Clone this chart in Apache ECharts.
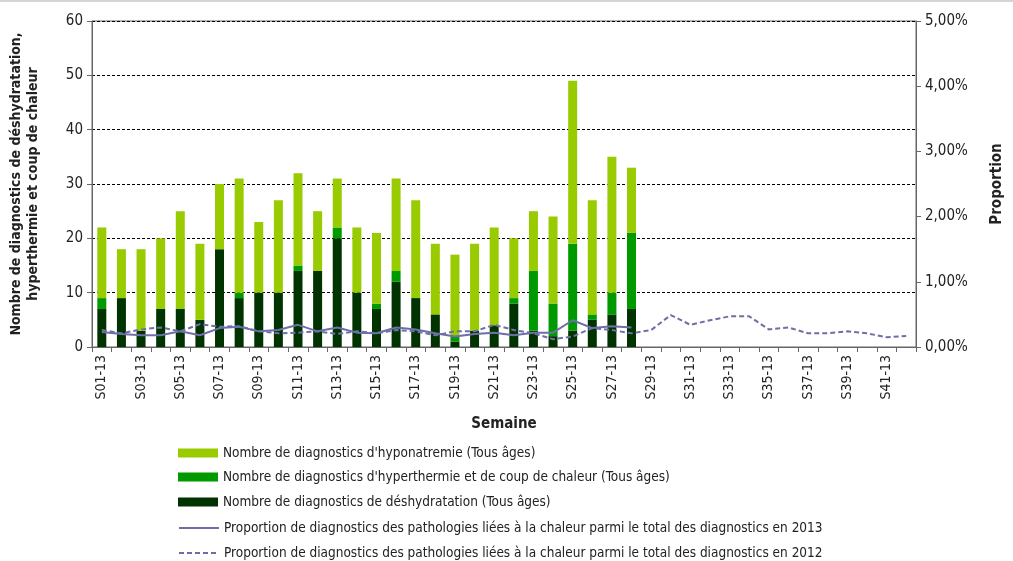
<!DOCTYPE html>
<html>
<head>
<meta charset="utf-8">
<script src="https://cdn.jsdelivr.net/npm/echarts@6/dist/echarts.min.js"></script>
<style>
  html, body { margin: 0; padding: 0; background: #fff; }
  #chart { width: 1013px; height: 561px; border-top: 2px solid #d4d4d4; box-sizing: border-box; }
</style>
</head>
<body>
<div id="chart"></div>
<script>
  // semaines S01-13 .. S42-13
  var semaines = []
  for (var i = 1; i <= 42; i++) {
    semaines.push('S' + (i < 10 ? '0' + i : i) + '-13')
  }

  var deshydratation = [7, 9, 3, 7, 7, 5, 18, 9, 10, 10, 14, 14, 20, 10, 7, 12, 9, 6, 1, 3, 4, 8, 3, 2, 3, 5, 6, 7]
  var hyperthermie = [2, 0, 0, 0, 0, 0, 0, 1, 0, 0, 1, 0, 2, 0, 1, 2, 0, 0, 1, 0, 0, 1, 11, 6, 16, 1, 4, 14]
  var hyponatremie = [13, 9, 15, 13, 18, 14, 12, 21, 13, 17, 17, 11, 9, 12, 13, 17, 18, 13, 15, 16, 18, 11, 11, 16, 30, 21, 25, 12]

  // proportions en %
  var prop2013 = [0.23, 0.2, 0.18, 0.18, 0.24, 0.18, 0.29, 0.31, 0.24, 0.26, 0.34, 0.24, 0.3, 0.22,
    0.21, 0.3, 0.27, 0.21, 0.16, 0.2, 0.22, 0.18, 0.22, 0.22, 0.41, 0.29, 0.32, 0.3]
  var prop2012 = [0.26, 0.21, 0.27, 0.3, 0.24, 0.35, 0.31, 0.32, 0.24, 0.21, 0.22, 0.24, 0.2, 0.24,
    0.21, 0.26, 0.24, 0.18, 0.24, 0.24, 0.34, 0.26, 0.21, 0.12, 0.16, 0.29, 0.26, 0.21,
    0.26, 0.49, 0.34, 0.41, 0.47, 0.47, 0.27, 0.3, 0.21, 0.21, 0.24, 0.21, 0.15, 0.17]

  var nomHypo = "Nombre de diagnostics d'hyponatremie (Tous âges)"
  var nomHyper = "Nombre de diagnostics d'hyperthermie et de coup de chaleur (Tous âges)"
  var nomDesh = 'Nombre de diagnostics de déshydratation (Tous âges)'
  var nom2013 = 'Proportion de diagnostics des pathologies liées à la chaleur parmi le total des diagnostics en 2013'
  var nom2012 = 'Proportion de diagnostics des pathologies liées à la chaleur parmi le total des diagnostics en 2012'

  var font = '"Liberation Sans Narrow", "DejaVu Sans Condensed", "Open Sans", sans-serif'
  var txt = '#222'

  // one legend per entry, stacked below the chart
  function legendItem(name, top, isLine) {
    return {
      orient: 'vertical',
      left: 178,
      top: top,
      padding: 0,
      itemWidth: 40,
      itemHeight: 9,
      textStyle: { fontFamily: font, fontSize: 13.5, color: txt },
      data: [isLine ? { name: name, itemStyle: { opacity: 0 } } : { name: name, icon: 'rect' }]
    }
  }

  var chart = echarts.init(document.getElementById('chart'))
  chart.setOption({
    backgroundColor: '#fff',
    animation: false,
    textStyle: { fontFamily: font, color: txt },
    grid: {
      left: 92,
      right: 88,
      top: 19,
      bottom: 214,
      show: true,
      borderColor: '#666',
      borderWidth: 1
    },
    legend: [
      legendItem(nomHypo, 444, false),
      legendItem(nomHyper, 468, false),
      legendItem(nomDesh, 493, false),
      legendItem(nom2013, 519, true),
      legendItem(nom2012, 544, true)
    ],
    xAxis: {
      type: 'category',
      data: semaines,
      name: 'Semaine',
      nameLocation: 'middle',
      nameGap: 70,
      nameTextStyle: { fontFamily: font, fontSize: 15, fontWeight: 'bold', color: txt },
      axisLine: { lineStyle: { color: '#666' } },
      axisTick: { show: true, interval: 0, length: 5, lineStyle: { color: '#666' } },
      axisLabel: { interval: 1, rotate: 90, fontSize: 14, color: txt, margin: 8 },
      splitLine: { show: false }
    },
    yAxis: [
      {
        type: 'value',
        min: 0,
        max: 60,
        interval: 10,
        name: 'Nombre de diagnostics de déshydratation,\nhyperthermie et coup de chaleur',
        nameLocation: 'middle',
        nameGap: 50,
        nameTextStyle: { fontFamily: font, fontSize: 14, fontWeight: 'bold', color: txt, lineHeight: 17 },
        axisLine: { show: true, lineStyle: { color: '#666' } },
        axisTick: { show: true, length: 5, lineStyle: { color: '#666' } },
        axisLabel: { fontSize: 15, color: txt, margin: 9 },
        splitLine: { show: true, lineStyle: { color: '#000', type: [3, 2], width: 1 } }
      },
      {
        type: 'value',
        min: 0,
        max: 5,
        interval: 1,
        position: 'right',
        name: 'Proportion',
        nameLocation: 'middle',
        nameGap: 74,
        nameRotate: 90,
        nameTextStyle: { fontFamily: font, fontSize: 15, fontWeight: 'bold', color: txt },
        axisLine: { show: true, lineStyle: { color: '#666' } },
        axisTick: { show: true, length: 5, lineStyle: { color: '#666' } },
        axisLabel: {
          fontSize: 15,
          color: txt,
          margin: 9,
          formatter: function (v) { return v.toFixed(2).replace('.', ',') + '%' }
        },
        splitLine: { show: false }
      }
    ],
    series: [
      {
        name: nomDesh,
        type: 'bar',
        stack: 'diag',
        barWidth: 9,
        itemStyle: { color: '#003300' },
        data: deshydratation
      },
      {
        name: nomHyper,
        type: 'bar',
        stack: 'diag',
        barWidth: 9,
        itemStyle: { color: '#009900' },
        data: hyperthermie
      },
      {
        name: nomHypo,
        type: 'bar',
        stack: 'diag',
        barWidth: 9,
        itemStyle: { color: '#99CC00' },
        data: hyponatremie
      },
      {
        name: nom2013,
        type: 'line',
        yAxisIndex: 1,
        symbol: 'none',
        lineStyle: { color: '#6E6EA8', width: 2 },
        itemStyle: { color: '#6E6EA8' },
        data: prop2013
      },
      {
        name: nom2012,
        type: 'line',
        yAxisIndex: 1,
        symbol: 'none',
        lineStyle: { color: '#6E6EA8', width: 2, type: [5, 3] },
        itemStyle: { color: '#6E6EA8' },
        data: prop2012
      }
    ]
  })
</script>
</body>
</html>
